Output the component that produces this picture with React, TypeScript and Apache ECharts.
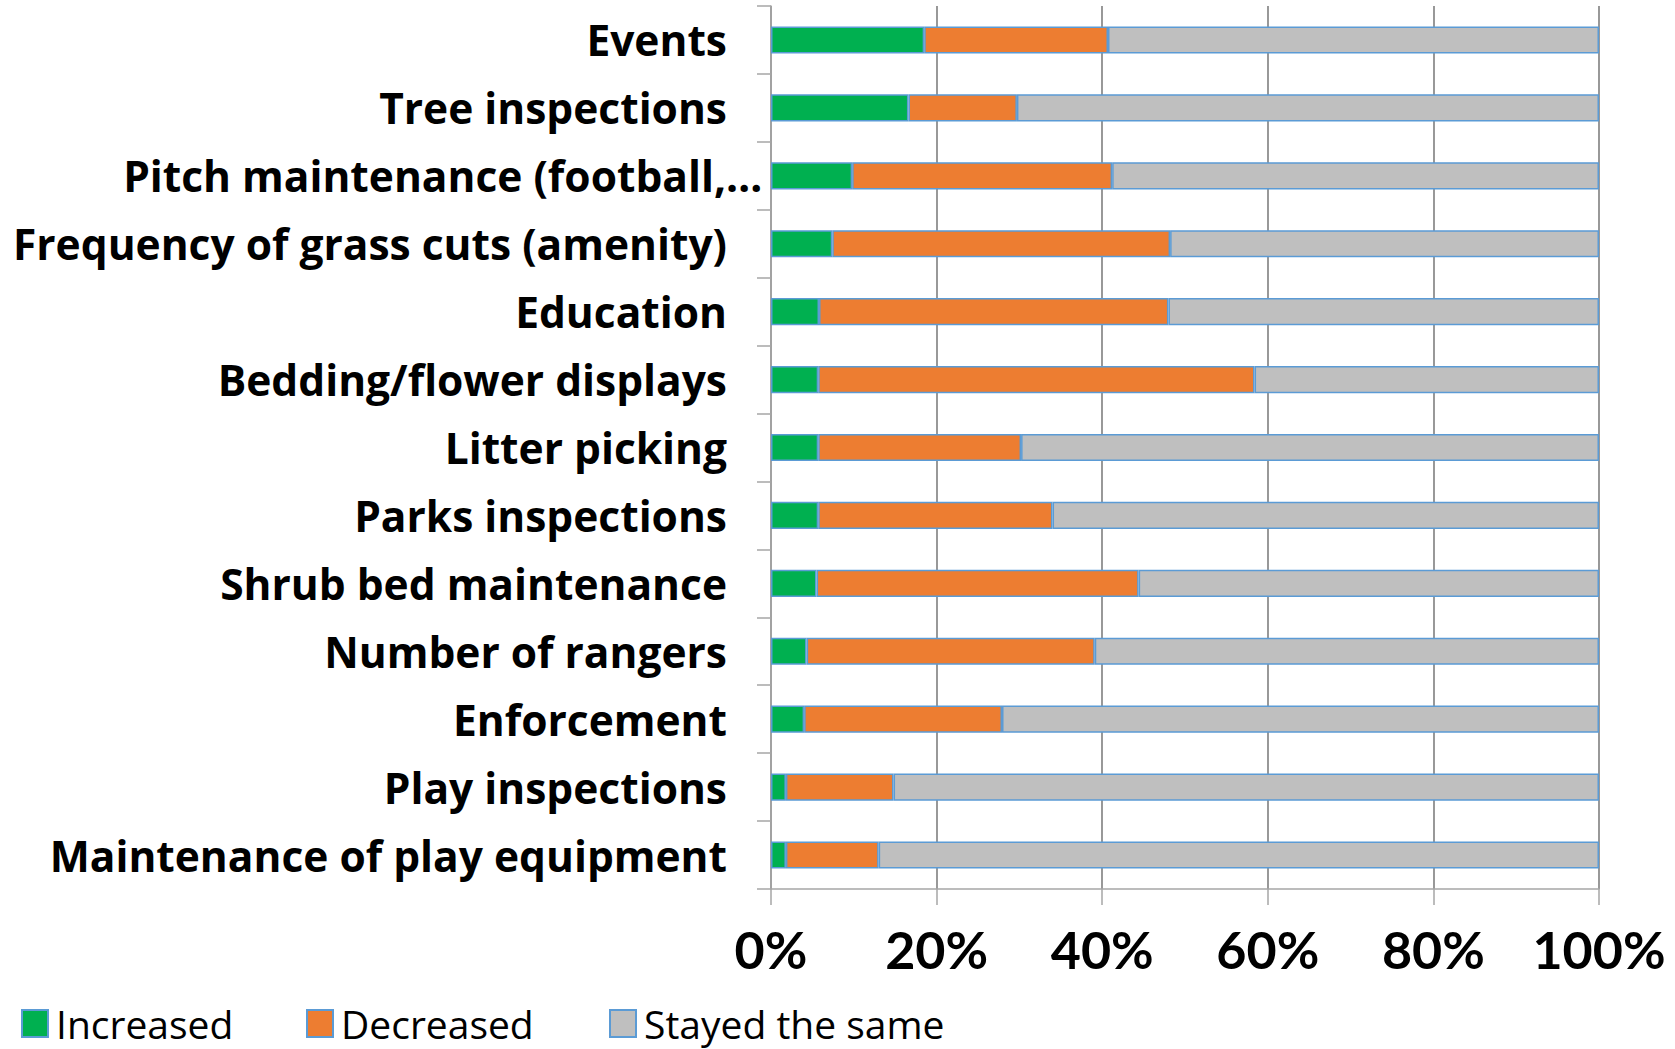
import React, { useEffect, useRef } from "react";
import * as echarts from "echarts";

const categories = [
  "Events",
  "Tree inspections",
  "Pitch maintenance (football,…",
  "Frequency of grass cuts (amenity)",
  "Education",
  "Bedding/flower displays",
  "Litter picking",
  "Parks inspections",
  "Shrub bed maintenance",
  "Number of rangers",
  "Enforcement",
  "Play inspections",
  "Maintenance of play equipment",
];

const increased = [18.5, 16.6, 9.8, 7.4, 5.8, 5.7, 5.7, 5.7, 5.5, 4.3, 4.0, 1.8, 1.8];
const decreased = [22.2, 13.1, 31.4, 40.8, 42.2, 52.7, 24.5, 28.3, 38.9, 34.8, 23.9, 13.0, 11.2];
const stayedSame = [59.3, 70.3, 58.8, 51.8, 52.0, 41.6, 69.8, 66.0, 55.6, 60.9, 72.1, 85.2, 87.0];

const seriesNames = ["Increased", "Decreased", "Stayed the same"];
const seriesColors = ["#00B050", "#ED7D31", "#BFBFBF"];
const xTicks = [0, 20, 40, 60, 80, 100];
const legendLefts = [21, 306, 609];

export default function App() {
  const ref = useRef<HTMLDivElement>(null);
  useEffect(() => {
    if (!ref.current) return;
    const chart = echarts.init(ref.current, null, { renderer: "svg" });
    const data = [increased, decreased, stayedSame];
    const labelFont = { fontFamily: "Open Sans", fontWeight: "bold", fontSize: 42.5, color: "#000" };
    chart.setOption({
      animation: false,
      backgroundColor: "#ffffff",
      grid: { left: 771, right: 76, top: 6, bottom: 160, containLabel: false },
      legend: seriesNames.map((name, i) => ({
        left: legendLefts[i],
        top: 1004,
        padding: 0,
        itemWidth: 26,
        itemHeight: 27,
        itemGap: 0,
        icon: "rect",
        textStyle: { fontFamily: "Open Sans", fontSize: 39, color: "#000", lineHeight: 34, padding: [0, 0, 0, 3] },
        data: [name],
      })),
      xAxis: {
        type: "value",
        min: xTicks[0],
        max: xTicks[xTicks.length - 1],
        interval: 20,
        axisLine: { show: true, lineStyle: { color: "#A6A6A6", width: 1.5 } },
        axisTick: { show: true, length: 16, lineStyle: { color: "#A6A6A6", width: 1.5 } },
        splitLine: { show: true, lineStyle: { color: "#7F7F7F", width: 1.6 } },
        axisLabel: {
          formatter: "{value}%",
          fontFamily: "Lato",
          fontWeight: "bold",
          fontSize: 52,
          color: "#000",
          margin: 34,
        },
      },
      yAxis: {
        type: "category",
        inverse: true,
        data: categories,
        axisLine: { show: true, lineStyle: { color: "#A6A6A6", width: 1.5 } },
        axisTick: { show: true, length: 14, lineStyle: { color: "#A6A6A6", width: 1.5 } },
        axisLabel: {
          ...labelFont,
          margin: 44,
          formatter: (v: string) => {
            if (v.endsWith("…")) {
              return "{a|" + v.slice(0, -1) + "}{b|…}";
            }
            return v;
          },
          rich: {
            a: { ...labelFont, align: "left" },
            b: { ...labelFont, align: "left", width: 1 },
          },
        },
      },
      series: seriesNames.map((name, i) => ({
        name,
        type: "bar",
        stack: "total",
        barCategoryGap: "60%",
        data: data[i],
        itemStyle: { color: seriesColors[i], borderColor: "#5B9BD5", borderWidth: 1.5 },
      })),
    });
    return () => chart.dispose();
  }, []);
  return <div ref={ref} style={{ position: "fixed", left: 0, top: 0, width: 1675, height: 1049 }} />;
}
